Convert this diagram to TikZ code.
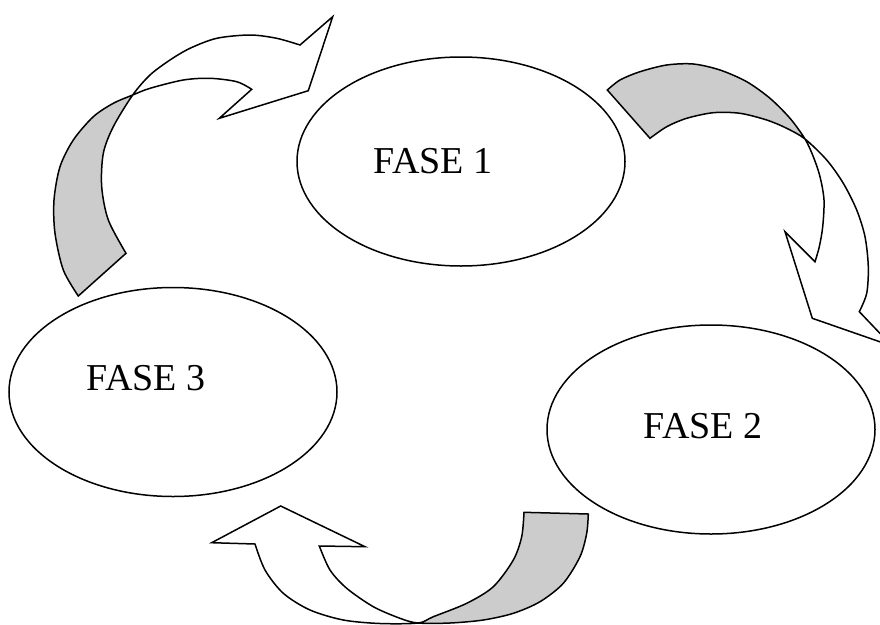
\documentclass[tikz,border=0pt]{standalone}
\usepackage{fontspec}
\setmainfont{Liberation Serif}
\usetikzlibrary{shapes.geometric}

\begin{document}
\begin{tikzpicture}[
    x=1pt, y=-1pt,
    line width=1.5pt,
    phase/.style={draw, ellipse, minimum width=328pt, minimum height=209pt, inner sep=0pt},
    phase text/.style={font=\fontsize{38}{44}\selectfont, inner sep=0pt},
    ribbon/.style={draw, fill=white, line join=miter},
    underside/.style={path picture={\fill[gray!40] #1;}},
  ]
  \clip (0,0) rectangle (880,624);

  % Phase ellipses
  \node[phase] (fase1) at (461,161.5) {};
  \node[phase] (fase2) at (711,429.5) {};
  \node[phase] (fase3) at (173,392) {};

  % Phase labels
  \node[phase text] (lbl1) at ([xshift=-28pt]fase1.center) {FASE 1};
  \node[phase text] (lbl2) at ([xshift=-8pt, yshift=3.5pt]fase2.center) {FASE 2};
  \node[phase text] (lbl3) at ([xshift=-27pt, yshift=14pt]fase3.center) {FASE 3};

  % Curved arrow from FASE 3 to FASE 1
  \draw[ribbon, underside={(0,0) -- (37.7,0) -- (700,662.3) -- (0,662.3) -- cycle}]
    plot[smooth] coordinates {(78.3,296) (63.3,270) (55,233.3) (54,200) (60,166.7) (73.3,140)
      (93.3,116.7) (113.3,103.3) (132.7,95) (150,88.3) (183.3,80) (210,78.3) (236.7,81.7) (251.7,89.3)}
    -- (219.3,118.3) -- (308.3,90.7) -- (332.7,16.7) -- (300,45)
    -- plot[smooth] coordinates {(300,45) (276.7,38.3) (250,35) (216.7,38.3) (190,48.3) (170,60)
      (150,75) (132.7,95) (113.3,126.7) (103.3,153.3) (101.7,186.7) (108.3,220) (126,253.3)}
    -- cycle;

  % Curved arrow from FASE 1 to FASE 2
  \draw[ribbon, underside={(0,0) -- (944,0) -- (0,944) -- cycle}]
    plot[smooth] coordinates {(607.3,90) (620,80) (640,71.7) (666.7,65) (693.3,64) (720,70)
      (746.7,81.7) (770,98.3) (790,118.3) (805,139) (813.3,156.7) (820,176.7) (824,200)
      (822.7,226.7) (819.3,246.7) (815,261.7)}
    -- (785,231.7) -- (812.3,318.3) -- (892,346) -- (859.3,311.7)
    -- plot[smooth] coordinates {(859.3,311.7) (866.7,293.3) (868.3,266.7) (865,236.7) (856.7,210)
      (843.3,183.3) (826.7,160) (805,139) (786.7,128.3) (766.7,120) (740,113.3) (713.3,112.7)
      (686.7,118.3) (666.7,126.7) (650,138.3)}
    -- cycle;

  % Curved arrow from FASE 2 to FASE 3
  \draw[ribbon, underside={(418,400) rectangle (700,700)}]
    plot[smooth] coordinates {(588.3,514) (586.7,533.3) (580,556.7) (563.3,583.3) (540,601.7)
      (513.3,613.3) (483.3,620) (450,623) (418,623) (400,618.3) (373.3,606.7) (346.7,588.3)
      (330,570) (319.3,546)}
    -- (365,546.7) -- (280.7,506) -- (211.7,542.7) -- (255,544)
    -- plot[smooth] coordinates {(255,544) (265,570) (283.3,593.3) (310,610) (343.3,620) (380,623.5)
      (418,623) (433.3,616.7) (466.7,603.3) (493.3,586.7) (513.3,560) (521.7,536.7) (524,512.3)}
    -- cycle;
\end{tikzpicture}
\end{document}
